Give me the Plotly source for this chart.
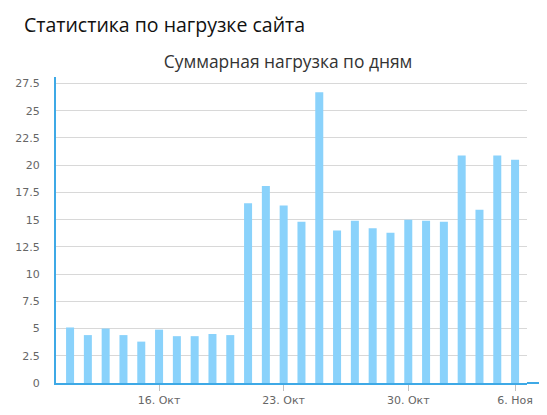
import plotly.graph_objects as go

# данные: суммарная нагрузка по дням
dates = ["2014-10-11", "2014-10-12", "2014-10-13", "2014-10-14", "2014-10-15",
         "2014-10-16", "2014-10-17", "2014-10-18", "2014-10-19", "2014-10-20",
         "2014-10-21", "2014-10-22", "2014-10-23", "2014-10-24", "2014-10-25",
         "2014-10-26", "2014-10-27", "2014-10-28", "2014-10-29", "2014-10-30",
         "2014-10-31", "2014-11-01", "2014-11-02", "2014-11-03", "2014-11-05",
         "2014-11-06"]
load = [5.1, 4.4, 5.0, 4.4, 3.8, 4.9, 4.3, 4.3, 4.5, 4.4,
        16.5, 18.1, 16.3, 14.8, 26.7, 14.0, 14.9, 14.2, 13.8, 15.0,
        14.9, 14.8, 20.9, 15.9, 20.9, 20.5]
tick_dates = ["2014-10-16", "2014-10-23", "2014-10-30", "2014-11-06"]
tick_labels = ["16. Окт", "23. Окт", "30. Окт", "6. Ноя"]
y_ticks = [0, 2.5, 5, 7.5, 10, 12.5, 15, 17.5, 20, 22.5, 25, 27.5]
y_labels = ["0", "2.5", "5", "7.5", "10", "12.5", "15", "17.5", "20", "22.5", "25", "27.5"]

fig = go.Figure(go.Bar(
    x=dates, y=load, marker=dict(color="#8ad2fb", line=dict(width=0)),
    width=0.45, name="Нагрузка"
))

# страница сдвигает график на 8px (отступ body), поэтому размеры меньше
fig.update_layout(
    width=539, height=407,
    margin=dict(l=48, r=20, t=69, b=32, autoexpand=False),
    plot_bgcolor="white", paper_bgcolor="white",
    showlegend=False,
    title=dict(text="Суммарная нагрузка по дням", x=0.5195, xanchor="center",
               y=0.867, yanchor="middle",
               font=dict(family="Open Sans", size=17.4, color="#333333")),
    font=dict(family="DejaVu Sans", size=11, color="#666666"),
)

fig.update_xaxes(
    type="category", range=[-0.79, 25.67], automargin=False,
    tickmode="array", tickvals=tick_dates, ticktext=tick_labels,
    ticks="outside", ticklen=6, tickcolor="#c0c0c0", tickwidth=1,
    showgrid=False, showline=True, linecolor="#3ea9e6", linewidth=2,
    tickfont=dict(size=11, color="#666666"),
)
fig.update_yaxes(
    range=[0, 28.1], tickmode="array", tickvals=y_ticks, ticktext=y_labels,
    automargin=False,
    showgrid=True, gridcolor="#d8d8d8", gridwidth=1,
    showline=True, linecolor="#3ea9e6", linewidth=2,
    zeroline=False, ticklabelstandoff=12,
    tickfont=dict(size=11, color="#666666"),
)

# ось X продолжается до правого края
fig.add_shape(type="line", xref="paper", yref="paper", x0=1, x1=1.1, y0=0, y1=0,
              line=dict(color="#3ea9e6", width=2))

fig.add_annotation(text="Статистика по нагрузке сайта", xref="paper", yref="paper",
                   x=-0.072, y=1.17, xanchor="left", yanchor="middle", showarrow=False,
                   font=dict(family="Open Sans", size=19.5, color="#111111"))

fig.write_html("out.html")
